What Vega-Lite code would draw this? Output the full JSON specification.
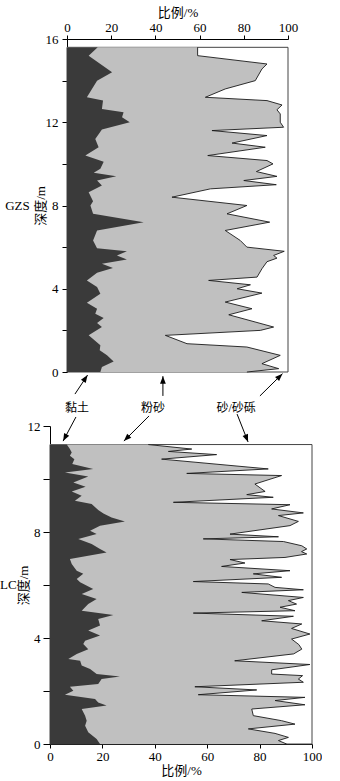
{
  "$schema": "https://vega.github.io/schema/vega-lite/v6.json",
  "padding": {"left": 0, "top": 6, "right": 0, "bottom": 0},
  "config": {
    "font": "Liberation Serif, Noto Sans CJK SC",
    "view": {"stroke": null},
    "axis": {
      "grid": false,
      "domainColor": "black",
      "tickColor": "black",
      "labelColor": "black",
      "titleColor": "black",
      "labelFont": "Liberation Serif",
      "titleFont": "Liberation Serif, Noto Sans CJK SC",
      "labelFontSize": 13,
      "titleFontSize": 13,
      "titleFontWeight": "normal",
      "labelFlush": false
    }
  },
  "datasets": {
    "gzs_clay": [
      {"d": 15.6, "p": 13.9}, {"d": 15.2, "p": 9.8}, {"d": 14.4, "p": 20.4}, {"d": 14.0, "p": 13.6},
      {"d": 13.2, "p": 9.0}, {"d": 13.04, "p": 16.3}, {"d": 12.64, "p": 15.8}, {"d": 12.48, "p": 25.6},
      {"d": 12.24, "p": 24.9}, {"d": 12.0, "p": 28.4}, {"d": 11.65, "p": 15.8}, {"d": 11.2, "p": 12.8},
      {"d": 10.8, "p": 14.3}, {"d": 10.4, "p": 8.3}, {"d": 10.1, "p": 16.6}, {"d": 9.76, "p": 15.1},
      {"d": 9.57, "p": 12.1}, {"d": 9.4, "p": 22.3}, {"d": 9.2, "p": 13.6}, {"d": 8.96, "p": 15.8},
      {"d": 8.64, "p": 9.8}, {"d": 8.2, "p": 11.8}, {"d": 8.0, "p": 10.6}, {"d": 7.6, "p": 11.8},
      {"d": 7.2, "p": 34.7}, {"d": 6.8, "p": 13.6}, {"d": 6.32, "p": 11.8}, {"d": 5.95, "p": 13.6},
      {"d": 5.8, "p": 27.1}, {"d": 5.6, "p": 22.6}, {"d": 5.4, "p": 27.1}, {"d": 5.2, "p": 15.8},
      {"d": 5.0, "p": 20.8}, {"d": 4.77, "p": 13.6}, {"d": 4.4, "p": 9.0}, {"d": 4.08, "p": 13.6},
      {"d": 3.76, "p": 15.1}, {"d": 3.33, "p": 9.0}, {"d": 3.04, "p": 13.6}, {"d": 2.8, "p": 12.8},
      {"d": 2.6, "p": 16.6}, {"d": 2.35, "p": 13.6}, {"d": 2.16, "p": 15.8}, {"d": 1.76, "p": 9.8},
      {"d": 1.28, "p": 15.1}, {"d": 1.04, "p": 14.8}, {"d": 0.8, "p": 18.1}, {"d": 0.51, "p": 21.1},
      {"d": 0.24, "p": 15.8}, {"d": 0, "p": 15.1}
    ],
    "gzs_silt": [
      {"d": 15.6, "p": 59.1}, {"d": 15.2, "p": 59.1}, {"d": 14.8, "p": 90.5}, {"d": 14.56, "p": 88.2},
      {"d": 14.0, "p": 85.2}, {"d": 13.6, "p": 71.6}, {"d": 13.2, "p": 62.6}, {"d": 13.04, "p": 90.5},
      {"d": 12.83, "p": 97.3}, {"d": 12.6, "p": 95.0}, {"d": 12.4, "p": 96.5}, {"d": 12.0, "p": 96.5},
      {"d": 11.76, "p": 98.0}, {"d": 11.6, "p": 65.6}, {"d": 11.36, "p": 90.5}, {"d": 11.0, "p": 74.7},
      {"d": 10.8, "p": 89.7}, {"d": 10.4, "p": 63.7}, {"d": 10.16, "p": 90.5}, {"d": 10.0, "p": 93.2},
      {"d": 9.63, "p": 85.7}, {"d": 9.4, "p": 95.0}, {"d": 9.2, "p": 80.0}, {"d": 9.0, "p": 94.7},
      {"d": 8.8, "p": 64.9}, {"d": 8.4, "p": 47.5}, {"d": 8.0, "p": 81.4}, {"d": 7.6, "p": 72.4},
      {"d": 7.2, "p": 91.7}, {"d": 6.8, "p": 71.6}, {"d": 6.32, "p": 78.4}, {"d": 6.0, "p": 81.4},
      {"d": 5.8, "p": 98.3}, {"d": 5.6, "p": 93.5}, {"d": 5.47, "p": 95.0}, {"d": 5.3, "p": 90.5},
      {"d": 4.96, "p": 88.2}, {"d": 4.56, "p": 86.0}, {"d": 4.4, "p": 64.1}, {"d": 4.19, "p": 83.0},
      {"d": 4.0, "p": 77.0}, {"d": 3.79, "p": 88.2}, {"d": 3.36, "p": 71.6}, {"d": 3.04, "p": 83.7},
      {"d": 2.75, "p": 73.2}, {"d": 2.16, "p": 93.5}, {"d": 2.0, "p": 87.5}, {"d": 1.76, "p": 44.5},
      {"d": 1.36, "p": 54.3}, {"d": 1.2, "p": 81.4}, {"d": 0.8, "p": 96.5}, {"d": 0.4, "p": 88.2},
      {"d": 0.16, "p": 95.8}, {"d": 0, "p": 81.4}
    ],
    "lc_clay": [
      {"d": 11.3, "p": 6.4}, {"d": 11.13, "p": 7.6}, {"d": 11.0, "p": 8.3}, {"d": 10.88, "p": 7.6},
      {"d": 10.75, "p": 9.3}, {"d": 10.57, "p": 8.5}, {"d": 10.38, "p": 16.5}, {"d": 10.25, "p": 5.7},
      {"d": 10.09, "p": 14.6}, {"d": 9.87, "p": 8.9}, {"d": 9.71, "p": 13.6}, {"d": 9.53, "p": 8.3},
      {"d": 9.37, "p": 12.1}, {"d": 9.18, "p": 9.5}, {"d": 9.06, "p": 15.9}, {"d": 8.83, "p": 18.4},
      {"d": 8.7, "p": 20.4}, {"d": 8.55, "p": 23.5}, {"d": 8.4, "p": 28.6}, {"d": 8.24, "p": 19.1},
      {"d": 8.05, "p": 15.3}, {"d": 7.92, "p": 17.8}, {"d": 7.74, "p": 10.8}, {"d": 7.55, "p": 15.9},
      {"d": 7.36, "p": 19.1}, {"d": 7.23, "p": 21.6}, {"d": 6.98, "p": 7.6}, {"d": 6.79, "p": 8.3},
      {"d": 6.54, "p": 10.2}, {"d": 6.42, "p": 12.7}, {"d": 6.23, "p": 10.2}, {"d": 6.1, "p": 11.5},
      {"d": 5.85, "p": 16.5}, {"d": 5.66, "p": 12.1}, {"d": 5.47, "p": 17.8}, {"d": 5.28, "p": 14.6},
      {"d": 5.03, "p": 12.1}, {"d": 4.87, "p": 24.2}, {"d": 4.72, "p": 18.4}, {"d": 4.47, "p": 19.1},
      {"d": 4.28, "p": 14.6}, {"d": 4.09, "p": 19.1}, {"d": 3.9, "p": 13.4}, {"d": 3.77, "p": 12.7},
      {"d": 3.58, "p": 14.6}, {"d": 3.4, "p": 10.2}, {"d": 3.21, "p": 7.0}, {"d": 3.14, "p": 11.5},
      {"d": 2.96, "p": 12.1}, {"d": 2.83, "p": 15.3}, {"d": 2.64, "p": 17.8}, {"d": 2.55, "p": 26.7},
      {"d": 2.45, "p": 19.7}, {"d": 2.26, "p": 18.4}, {"d": 2.16, "p": 7.6}, {"d": 2.01, "p": 8.9},
      {"d": 1.86, "p": 5.7}, {"d": 1.7, "p": 17.2}, {"d": 1.57, "p": 18.4}, {"d": 1.45, "p": 21.6},
      {"d": 1.32, "p": 12.1}, {"d": 1.07, "p": 13.4}, {"d": 0.88, "p": 14.0}, {"d": 0.69, "p": 13.4},
      {"d": 0.44, "p": 14.6}, {"d": 0.19, "p": 17.8}, {"d": 0, "p": 19.1}
    ],
    "lc_silt": [
      {"d": 11.3, "p": 37.5}, {"d": 11.13, "p": 54.1}, {"d": 11.04, "p": 45.2}, {"d": 10.92, "p": 63.6},
      {"d": 10.75, "p": 42.6}, {"d": 10.38, "p": 83.3}, {"d": 10.21, "p": 52.2}, {"d": 10.13, "p": 88.4},
      {"d": 9.81, "p": 78.2}, {"d": 9.53, "p": 82.1}, {"d": 9.41, "p": 75.1}, {"d": 9.31, "p": 85.2},
      {"d": 9.12, "p": 47.1}, {"d": 9.03, "p": 91.6}, {"d": 8.87, "p": 84.6}, {"d": 8.72, "p": 96.7},
      {"d": 8.62, "p": 87.2}, {"d": 8.4, "p": 94.8}, {"d": 8.24, "p": 91.6}, {"d": 7.92, "p": 68.7},
      {"d": 7.82, "p": 87.2}, {"d": 7.74, "p": 58.5}, {"d": 7.64, "p": 89.1}, {"d": 7.48, "p": 96.1},
      {"d": 7.36, "p": 98.0}, {"d": 7.26, "p": 96.0}, {"d": 7.17, "p": 98.0}, {"d": 7.04, "p": 89.7},
      {"d": 6.96, "p": 68.7}, {"d": 6.83, "p": 74.4}, {"d": 6.7, "p": 65.5}, {"d": 6.54, "p": 91.6},
      {"d": 6.42, "p": 77.6}, {"d": 6.29, "p": 88.4}, {"d": 6.13, "p": 54.7}, {"d": 6.04, "p": 83.3},
      {"d": 5.91, "p": 85.9}, {"d": 5.82, "p": 96.7}, {"d": 5.72, "p": 73.2}, {"d": 5.53, "p": 96.7},
      {"d": 5.41, "p": 91.0}, {"d": 5.28, "p": 94.1}, {"d": 5.16, "p": 87.8}, {"d": 5.03, "p": 93.5},
      {"d": 4.94, "p": 54.7}, {"d": 4.82, "p": 92.9}, {"d": 4.65, "p": 80.8}, {"d": 4.53, "p": 96.1},
      {"d": 4.36, "p": 92.2}, {"d": 4.15, "p": 99.2}, {"d": 3.96, "p": 92.2}, {"d": 3.75, "p": 95.0},
      {"d": 3.58, "p": 96.1}, {"d": 3.4, "p": 93.0}, {"d": 3.14, "p": 70.5}, {"d": 3.0, "p": 99.2},
      {"d": 2.8, "p": 84.6}, {"d": 2.64, "p": 84.6}, {"d": 2.58, "p": 96.4}, {"d": 2.45, "p": 94.8},
      {"d": 2.33, "p": 96.7}, {"d": 2.16, "p": 55.3}, {"d": 2.04, "p": 78.9}, {"d": 1.86, "p": 56.6},
      {"d": 1.76, "p": 97.3}, {"d": 1.64, "p": 85.9}, {"d": 1.48, "p": 97.3}, {"d": 1.32, "p": 77.0},
      {"d": 1.07, "p": 77.6}, {"d": 0.88, "p": 88.4}, {"d": 0.75, "p": 93.5}, {"d": 0.57, "p": 75.7},
      {"d": 0.4, "p": 85.9}, {"d": 0.25, "p": 91.0}, {"d": 0.13, "p": 87.2}, {"d": 0, "p": 90.3}
    ],
    "frames": [
      {"site": "GZS", "p0": 0, "p1": 100, "d0": 0, "d1": 15.6},
      {"site": "LC", "p0": 0, "p1": 100, "d0": 0, "d1": 11.3}
    ],
    "site_labels": [
      {"site": "GZS", "t": "GZS", "v": -22.4, "d": 8.0},
      {"site": "LC", "t": "LC", "v": -15.9, "d": 6.0}
    ],
    "legend_text": [
      {"t": "黏土", "v": 4.5, "d": -1.73},
      {"t": "粉砂", "v": 38.9, "d": -1.73},
      {"t": "砂/砂砾", "v": 76.5, "d": -1.73}
    ],
    "arrows": [
      {"site": "GZS", "t": "黏土", "v1": 3.6, "d1": -1.06, "v2": 9.3, "d2": -0.15},
      {"site": "GZS", "t": "粉砂", "v1": 43.4, "d1": -1.15, "v2": 43.4, "d2": -0.2},
      {"site": "GZS", "t": "砂/砂砾", "v1": 87.3, "d1": -1.15, "v2": 97.5, "d2": -0.08},
      {"site": "LC", "t": "黏土", "v1": 9.9, "d1": 12.34, "v2": 5.0, "d2": 11.43},
      {"site": "LC", "t": "粉砂", "v1": 37.8, "d1": 12.38, "v2": 28.2, "d2": 11.43},
      {"site": "LC", "t": "砂/砂砾", "v1": 71.4, "d1": 12.45, "v2": 75.6, "d2": 11.4}
    ],
    "blank": [{"t": ""}]
  },
  "concat": [
    {
      "hconcat": [
        {
          "width": 17,
          "height": 333,
          "data": {"name": "blank"},
          "mark": {"type": "text"},
          "encoding": {"text": {"field": "t"}}
        },
        {
          "width": 221,
          "height": 333,
          "layer": [
            {
              "data": {"name": "frames"},
              "transform": [{"filter": "datum.site === 'GZS'"}],
              "mark": {"type": "rect", "fill": "white", "stroke": "#444", "strokeWidth": 1},
              "encoding": {
                "x": {
                  "field": "p0", "type": "quantitative",
                  "scale": {"domain": [0, 100], "nice": false},
                  "axis": {
                    "orient": "top", "title": "比例/%",
                    "values": [0, 10, 20, 30, 40, 50, 60, 70, 80, 90, 100],
                    "labelExpr": "datum.value % 20 === 0 ? datum.label : ''",
                    "tickSize": 4, "labelPadding": 1, "titlePadding": 2
                  }
                },
                "x2": {"field": "p1"},
                "y": {
                  "field": "d0", "type": "quantitative",
                  "scale": {"domain": [0, 16], "nice": false},
                  "axis": {
                    "title": "深度/m",
                    "values": [0, 2, 4, 6, 8, 10, 12, 14, 16],
                    "labelExpr": "datum.value % 4 === 0 ? datum.label : ''",
                    "tickSize": 5, "labelPadding": 4, "titlePadding": -2
                  }
                },
                "y2": {"field": "d1"}
              }
            },
            {
              "data": {"name": "gzs_silt"},
              "mark": {"type": "area", "orient": "horizontal", "color": "#c0c0c0", "opacity": 1},
              "encoding": {
                "y": {"field": "d", "type": "quantitative"},
                "x": {"field": "p", "type": "quantitative"}
              }
            },
            {
              "data": {"name": "gzs_silt"},
              "mark": {"type": "line", "color": "#1a1a1a", "strokeWidth": 0.9},
              "encoding": {
                "y": {"field": "d", "type": "quantitative"},
                "x": {"field": "p", "type": "quantitative"},
                "order": {"field": "d", "type": "quantitative"}
              }
            },
            {
              "data": {"name": "gzs_clay"},
              "mark": {"type": "area", "orient": "horizontal", "color": "#3a3a3a", "opacity": 1},
              "encoding": {
                "y": {"field": "d", "type": "quantitative"},
                "x": {"field": "p", "type": "quantitative"}
              }
            },
            {
              "data": {"name": "site_labels"},
              "transform": [{"filter": "datum.site === 'GZS'"}],
              "mark": {"type": "text", "fontSize": 13, "font": "Liberation Serif", "color": "black", "clip": false},
              "encoding": {
                "x": {"field": "v", "type": "quantitative"},
                "y": {"field": "d", "type": "quantitative"},
                "text": {"field": "t"}
              }
            },
            {
              "data": {"name": "legend_text"},
              "mark": {"type": "text", "fontSize": 12, "font": "Liberation Serif, Noto Sans CJK SC", "color": "black", "clip": false},
              "encoding": {
                "x": {"field": "v", "type": "quantitative"},
                "y": {"field": "d", "type": "quantitative"},
                "text": {"field": "t"}
              }
            },
            {
              "data": {"name": "arrows"},
              "transform": [{"filter": "datum.site === 'GZS'"}],
              "mark": {"type": "rule", "color": "black", "strokeWidth": 1, "clip": false},
              "encoding": {
                "x": {"field": "v1", "type": "quantitative"},
                "y": {"field": "d1", "type": "quantitative"},
                "x2": {"field": "v2"},
                "y2": {"field": "d2"}
              }
            },
            {
              "data": {"name": "arrows"},
              "transform": [
                {"filter": "datum.site === 'GZS'"},
                {"calculate": "atan2((datum.v2 - datum.v1) * 2.21, (datum.d2 - datum.d1) * 20.8) * 180 / PI", "as": "ang"}
              ],
              "mark": {"type": "point", "shape": "M0,0L-0.38,1L0.38,1Z", "filled": true, "color": "black", "opacity": 1, "size": 230, "clip": false},
              "encoding": {
                "x": {"field": "v2", "type": "quantitative"},
                "y": {"field": "d2", "type": "quantitative"},
                "angle": {"field": "ang", "type": "quantitative", "scale": null}
              }
            }
          ]
        }
      ],
      "spacing": 0,
      "bounds": "flush"
    },
    {
      "width": 262,
      "height": 318,
      "layer": [
        {
          "data": {"name": "frames"},
          "transform": [{"filter": "datum.site === 'LC'"}],
          "mark": {"type": "rect", "fill": "white", "stroke": "#444", "strokeWidth": 1},
          "encoding": {
            "x": {
              "field": "p0", "type": "quantitative",
              "scale": {"domain": [0, 100], "nice": false},
              "axis": {
                "orient": "bottom", "title": "比例/%",
                "values": [0, 10, 20, 30, 40, 50, 60, 70, 80, 90, 100],
                "labelExpr": "datum.value % 20 === 0 ? datum.label : ''",
                "tickSize": 4, "labelPadding": 2, "titlePadding": 1
              }
            },
            "x2": {"field": "p1"},
            "y": {
              "field": "d0", "type": "quantitative",
              "scale": {"domain": [0, 12], "nice": false},
              "axis": {
                "title": "深度/m",
                "values": [0, 2, 4, 6, 8, 10, 12],
                "labelExpr": "datum.value % 4 === 0 ? datum.label : ''",
                "tickSize": 7, "labelPadding": 3, "titlePadding": -3
              }
            },
            "y2": {"field": "d1"}
          }
        },
        {
          "data": {"name": "lc_silt"},
          "mark": {"type": "area", "orient": "horizontal", "color": "#c0c0c0", "opacity": 1},
          "encoding": {
            "y": {"field": "d", "type": "quantitative"},
            "x": {"field": "p", "type": "quantitative"}
          }
        },
        {
          "data": {"name": "lc_silt"},
          "mark": {"type": "line", "color": "#1a1a1a", "strokeWidth": 0.9},
          "encoding": {
            "y": {"field": "d", "type": "quantitative"},
            "x": {"field": "p", "type": "quantitative"},
            "order": {"field": "d", "type": "quantitative"}
          }
        },
        {
          "data": {"name": "lc_clay"},
          "mark": {"type": "area", "orient": "horizontal", "color": "#3a3a3a", "opacity": 1},
          "encoding": {
            "y": {"field": "d", "type": "quantitative"},
            "x": {"field": "p", "type": "quantitative"}
          }
        },
        {
          "data": {"name": "site_labels"},
          "transform": [{"filter": "datum.site === 'LC'"}],
          "mark": {"type": "text", "fontSize": 13, "font": "Liberation Serif", "color": "black", "clip": false},
          "encoding": {
            "x": {"field": "v", "type": "quantitative"},
            "y": {"field": "d", "type": "quantitative"},
            "text": {"field": "t"}
          }
        },
        {
          "data": {"name": "arrows"},
          "transform": [{"filter": "datum.site === 'LC'"}],
          "mark": {"type": "rule", "color": "black", "strokeWidth": 1, "clip": false},
          "encoding": {
            "x": {"field": "v1", "type": "quantitative"},
            "y": {"field": "d1", "type": "quantitative"},
            "x2": {"field": "v2"},
            "y2": {"field": "d2"}
          }
        },
        {
          "data": {"name": "arrows"},
          "transform": [
            {"filter": "datum.site === 'LC'"},
            {"calculate": "atan2((datum.v2 - datum.v1) * 2.62, (datum.d2 - datum.d1) * 26.5) * 180 / PI", "as": "ang"}
          ],
          "mark": {"type": "point", "shape": "M0,0L-0.38,1L0.38,1Z", "filled": true, "color": "black", "opacity": 1, "size": 230, "clip": false},
          "encoding": {
            "x": {"field": "v2", "type": "quantitative"},
            "y": {"field": "d2", "type": "quantitative"},
            "angle": {"field": "ang", "type": "quantitative", "scale": null}
          }
        }
      ]
    }
  ],
  "columns": 1,
  "align": "none",
  "bounds": "flush",
  "spacing": 387
}
